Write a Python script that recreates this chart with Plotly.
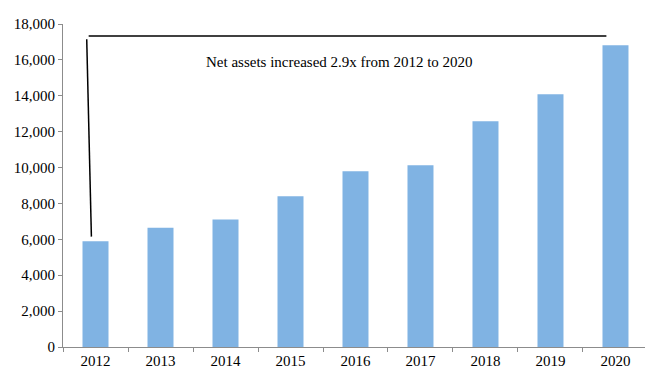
import plotly.graph_objects as go

years = ["2012", "2013", "2014", "2015", "2016", "2017", "2018", "2019", "2020"]
net_assets = [5900, 6650, 7100, 8400, 9800, 10130, 12580, 14080, 16820]
y_ticks = [0, 2000, 4000, 6000, 8000, 10000, 12000, 14000, 16000, 18000]
note_text = "Net assets increased 2.9x from 2012 to 2020"

FONT = "Liberation Serif"
BAR = "#80B3E3"

fig = go.Figure()
fig.add_trace(go.Bar(
    x=list(range(len(years))), y=net_assets,
    marker=dict(color=BAR, line=dict(width=0)),
    width=0.4, hoverinfo="skip",
))

# bracket: horizontal line above the last bar, vertical drop to the first bar
level = net_assets[-1] + 510
fig.add_shape(type="line", xref="x", yref="y",
              x0=-0.105, x1=len(years) - 1 - 0.14, y0=level, y1=level,
              line=dict(color="black", width=1.5))
fig.add_shape(type="line", xref="x", yref="y",
              x0=-0.135, x1=-0.063, y0=level - 180, y1=net_assets[0] + 250,
              line=dict(color="black", width=1.5))

fig.add_annotation(x=3.76, y=level - 1430, xref="x", yref="y",
                   text=note_text, showarrow=False,
                   font=dict(family=FONT, size=15, color="black"))

fig.update_layout(
    width=645, height=367,
    margin=dict(l=63, r=0, t=24, b=20),
    paper_bgcolor="white", plot_bgcolor="white",
    showlegend=False, bargap=0.6,
    font=dict(family=FONT, size=15, color="black"),
)
fig.update_xaxes(
    range=[-0.5, 8.454], tickmode="array",
    tickvals=list(range(len(years))), ticktext=years,
    showgrid=False, zeroline=False,
    showline=True, linecolor="#8c8c8c", linewidth=1,
    ticks="", automargin=False,
    tickfont=dict(family=FONT, size=15, color="black"),
)
# minor ticks between categories
fig.update_xaxes(minor=dict(tickvals=[i + 0.5 for i in range(-1, len(years))],
                            ticks="outside", ticklen=4, tickcolor="#8c8c8c", tickwidth=1))
fig.update_yaxes(
    range=[0, 18000], tickvals=y_ticks, tickformat=",d",
    showgrid=False, zeroline=False,
    showline=True, linecolor="#8c8c8c", linewidth=1,
    ticks="outside", ticklen=4, tickcolor="#8c8c8c",
    automargin=False,
    tickfont=dict(family=FONT, size=15, color="black"),
)

fig.write_html("out.html")
